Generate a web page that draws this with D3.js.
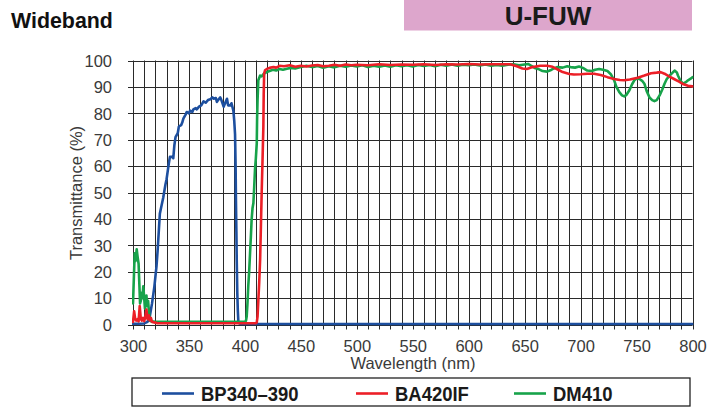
<!DOCTYPE html>
<html>
<head>
<meta charset="utf-8">
<script src="https://cdn.jsdelivr.net/npm/d3@7"></script>
<style>
  html, body { margin: 0; padding: 0; background: #fff; }
  svg { display: block; }
</style>
</head>
<body>
<svg id="chart" width="715" height="414"></svg>
<script>
// ---------- data ----------
const chartTitle = "Wideband";
const filterSet = "U-FUW";
const xTicks = [300, 350, 400, 450, 500, 550, 600, 650, 700, 750, 800];
const yTicks = [0, 10, 20, 30, 40, 50, 60, 70, 80, 90, 100];
const seriesNames = ["BP340–390", "BA420IF", "DM410"];
const seriesColors = ["#1d4f9f", "#ec1f27", "#17a34a"];

const bp340 = [[300,0.3],[305,0.3],[310,0.4],[313,1],[315,3],[317,8],[319,14],[320,18],[321,22],[322,28],[323,35],[324,42],[325,44],[327,48],[329,53],[330,55],[331,58],[332,61],[333,63.5],[335,63.5],[336,63],[337,68],[338,71],[340,72.5],[341,75],[343,75.5],[344,76.5],[345,78],[347,79.5],[348,80.5],[350,80],[351,81],[353,80.5],[354,81.5],[356,82],[357,81.5],[359,82.5],[361,83],[363,84.5],[365,84],[367,85],[369,85.3],[371,86],[372,85.5],[374,85.8],[375,84.3],[376,85],[378,86],[379,85],[381,82.5],[382,83.5],[384,85.5],[385,83],[387,83],[388,83.8],[389.7,81],[390.5,77],[391.2,72],[391.7,60],[392,47],[392.4,35],[392.7,24.5],[393.2,12],[393.7,5],[394.2,0.6],[396,0.2],[800,0.2]];

const ba420 = [[300,1],[301,5],[302,2],[303,1.5],[304,2],[305,1.2],[306,7],[307,2],[308,1.5],[309,2.5],[310,1.3],[311,3],[312,5.7],[313,2],[314,3.5],[315,1.5],[316,2.5],[317,1],[319,0.8],[322,0.5],[410,0.5],[410.6,0.8],[411.3,3],[412,9],[412.8,16],[413.6,24.5],[414.3,37],[415,50],[415.8,63],[416.5,75],[416.8,87],[417.2,95],[418,96.3],[419.6,96.8],[422,97.2],[425.5,97.5],[428,97.3],[431,98],[435,97.8],[440,98.2],[445,97.6],[450,98],[455,97.7],[460,98.1],[465,98.3],[470,97.8],[475,98],[480,98.4],[485,98],[490,98.5],[495,98.2],[500,98.4],[510,98.2],[520,98.6],[530,98.3],[540,98.5],[550,98.4],[560,98.6],[570,98.3],[580,98.6],[590,98.5],[600,98.7],[610,98.5],[620,98.6],[630,98.6],[637,98.6],[643,97.8],[648,97],[652,96.8],[657,97.5],[664,98],[670,98],[675,97.6],[680,96.5],[684,95.6],[690,94.9],[694,94.7],[700,94.8],[706,95],[712,95],[718,94.5],[724,93.7],[730,93],[735,92.6],[739,92.5],[744,92.8],[751,93.5],[757,94.3],[763,95.2],[768,95.4],[771.5,95.6],[775,95],[779,94],[783.5,93],[788,92],[792,91],[796,90.4],[800,90.2]];

const dm410 = [[300,8],[300.8,18],[301.5,27],[302.2,24],[303.3,28.5],[304,26],[305,23],[305.7,15],[306.3,8],[307,9],[307.7,12],[308.4,10],[309.2,14.5],[310,10],[310.7,6],[311.3,8],[312,11],[312.7,7],[313.5,9],[314.2,5],[315,1.5],[316,1.2],[320,1],[400,1],[401,1.5],[401.6,3],[402.3,8],[403,14.5],[403.8,20],[404.6,27],[405.3,33],[406,39.6],[406.8,44],[407.6,46],[408.3,52],[409,58.5],[409.8,63],[410.6,68.6],[410.9,78],[411.3,85],[412,92.5],[413.6,94.3],[415,94],[417,95],[419.6,95.6],[422,96],[425,96.5],[428,96.2],[431,96.8],[434,96.5],[437.5,96.9],[441,97.2],[445,97],[450,97.5],[455,98],[460,97.5],[465,97.9],[470,97.3],[475,97.8],[480,97.4],[485,98],[490,97.6],[495,98.1],[500,97.7],[505,98.2],[510,97.5],[515,98],[520,97.6],[525,98.1],[530,97.6],[535,98.2],[540,97.8],[545,98.2],[550,97.7],[555,98.3],[560,97.9],[565,98.3],[570,97.8],[575,98.4],[580,98],[585,98.5],[590,98],[595,98.4],[600,98.2],[605,98.5],[610,98.1],[615,98.5],[620,98],[625,98.3],[630,98],[635,98.4],[640,98.6],[645,98.2],[650,98.5],[653,98.7],[656,98],[659,97.2],[662,96.8],[666,96],[670,95.8],[673,96.3],[676,97],[679,97.5],[684,97.3],[688,97.8],[691,97.5],[695,97.3],[698.6,97.7],[702,97.2],[706,96.2],[710,96],[713,96.5],[716.6,96.8],[720,96.5],[724,96],[727,94.8],[730,92.5],[732,90],[734.6,88],[737,86.8],[739,86.4],[741,87],[743.6,88.7],[746,91],[748,92.5],[750,93.2],[752.6,93],[755,92.3],[757,91.2],[759,88.5],[761.6,86],[764,85],[766,84.6],[768,85],[770.6,86.8],[773,89],[775,91.2],[777,93],[779.6,94.3],[782,95.3],[784,96.2],[786,95.5],[787,94.3],[789,92.5],[791.6,91.2],[794,91.8],[796,92.5],[798,93],[800,93.7]];

// ---------- layout ----------
const svg = d3.select("#chart");
const L = 133, R = 692.5, T = 60.5, B = 324.5;
const x = d3.scaleLinear().domain([300, 800]).range([L, R]);
const y = d3.scaleLinear().domain([0, 100]).range([B, T]);
const boldFont = "'Liberation Sans', Arial, sans-serif";

// header
svg.append("text").attr("transform", "translate(11,28) scale(0.93,1)")
  .attr("font-family", boldFont)
  .attr("font-weight", "bold").attr("font-size", 23).attr("fill", "#111")
  .text(chartTitle);
svg.append("rect").attr("x", 404).attr("y", 0).attr("width", 288).attr("height", 30.5)
  .attr("fill", "#dda6cc");
svg.append("text").attr("x", 548).attr("y", 25).attr("text-anchor", "middle")
  .attr("font-family", boldFont)
  .attr("font-weight", "bold").attr("font-size", 26).attr("fill", "#1a1a1a")
  .text(filterSet);

// grid
const g = svg.append("g");
const vTicks = d3.range(300, 801, 10);
g.selectAll("line.v").data(vTicks).join("line")
  .attr("x1", d => Math.round(x(d)) + 0.5).attr("x2", d => Math.round(x(d)) + 0.5)
  .attr("y1", T).attr("y2", B + 5)
  .attr("stroke", "#2a2a2a").attr("stroke-width", 1);
g.selectAll("line.h").data(yTicks).join("line")
  .attr("x1", L - 5).attr("x2", R)
  .attr("y1", d => Math.round(y(d)) + 0.5).attr("y2", d => Math.round(y(d)) + 0.5)
  .attr("stroke", "#2a2a2a").attr("stroke-width", 1);

// axes labels via d3 axes
const fontTick = "'Liberation Sans', Arial, sans-serif";
const yAxis = svg.append("g").attr("transform", `translate(${L - 21},0)`)
  .call(d3.axisLeft(y).tickValues(yTicks).tickSize(0).tickPadding(0));
yAxis.select(".domain").remove();
yAxis.selectAll("text").attr("font-family", fontTick).attr("font-size", 16.5)
  .attr("fill", "#3a3a3a").attr("dy", "0.35em");

const xAxis = svg.append("g").attr("transform", `translate(0,${B})`)
  .call(d3.axisBottom(x).tickValues(xTicks).tickSize(0).tickPadding(0));
xAxis.select(".domain").remove();
xAxis.selectAll("text").attr("font-family", fontTick).attr("font-size", 16.5)
  .attr("fill", "#3a3a3a").attr("dy", 0).attr("y", 27);

svg.append("text").attr("transform", "translate(82,193) rotate(-90)")
  .attr("text-anchor", "middle").attr("font-family", fontTick).attr("font-size", 16.5)
  .attr("fill", "#3a3a3a").text("Transmittance (%)");
svg.append("text").attr("x", 413).attr("y", 369).attr("text-anchor", "middle")
  .attr("font-family", fontTick).attr("font-size", 16.5)
  .attr("fill", "#3a3a3a").text("Wavelength (nm)");

// curves
const line = d3.line().x(d => x(d[0])).y(d => y(d[1]));
const drawOrder = [[bp340, 0], [dm410, 2], [ba420, 1]];
svg.append("clipPath").attr("id", "clip").append("rect")
  .attr("x", L - 1).attr("y", T - 3).attr("width", R - L + 2).attr("height", B - T + 6);
drawOrder.forEach(([data, i]) => {
  svg.append("path").datum(data).attr("d", line)
    .attr("fill", "none").attr("stroke", seriesColors[i]).attr("stroke-width", 2.6)
    .attr("stroke-linejoin", "round").attr("stroke-linecap", "round")
    .attr("clip-path", "url(#clip)");
});

// legend
const lg = svg.append("g");
lg.append("rect").attr("x", 132).attr("y", 378).attr("width", 558).attr("height", 28)
  .attr("fill", "#fff").attr("stroke", "#222").attr("stroke-width", 1.3);
const legendX = [162, 356, 514];
seriesNames.forEach((n, i) => {
  lg.append("line").attr("x1", legendX[i]).attr("x2", legendX[i] + 32)
    .attr("y1", 393.5).attr("y2", 393.5)
    .attr("stroke", seriesColors[i]).attr("stroke-width", 2.6);
  lg.append("text").attr("transform", `translate(${legendX[i] + 39},400.5) scale(0.88,1)`)
    .attr("font-family", boldFont)
    .attr("font-weight", "bold").attr("font-size", 21).attr("fill", "#1a1a1a")
    .text(n);
});
</script>
</body>
</html>
